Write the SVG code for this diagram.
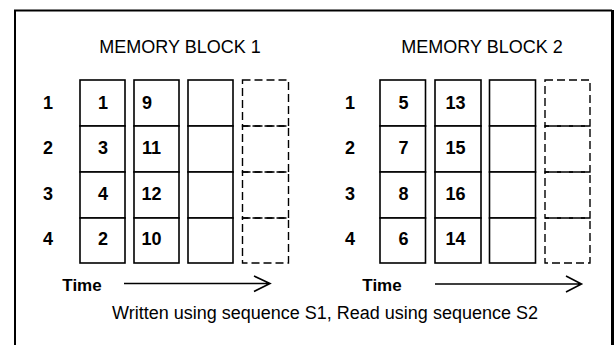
<svg xmlns="http://www.w3.org/2000/svg" width="615" height="345" viewBox="0 0 615 345">
<style>
.frame{fill:none;stroke:#000;stroke-width:2}
.cell{fill:#fff;stroke:#000;stroke-width:1.6}
.dash{fill:none;stroke:#000;stroke-width:1.4;stroke-dasharray:8 4}
.t{font-family:"Liberation Sans",Arial,sans-serif;font-size:18px;fill:#000}
.n{font-family:"Liberation Sans",Arial,sans-serif;font-size:18px;font-weight:bold;fill:#000;text-anchor:middle}
.c{text-anchor:middle}
.arr{fill:none;stroke:#000;stroke-width:1.6}
</style>
<rect width="615" height="345" fill="#fff"/>
<path class="frame" d="M15,350 V10.5 H612"/>
<line x1="612.5" y1="10" x2="612.5" y2="350" stroke="#000" stroke-width="3"/>

<g id="block1">
  <text class="t c" x="180" y="53">MEMORY BLOCK 1</text>
  <g id="rowlabels1">
    <text class="n" x="48" y="108.5">1</text>
    <text class="n" x="48" y="153.5">2</text>
    <text class="n" x="48" y="200">3</text>
    <text class="n" x="48" y="245">4</text>
  </g>
  <g id="b1col1">
    <rect class="cell" x="80" y="80" width="45" height="46"/>
    <rect class="cell" x="80" y="126" width="45" height="46"/>
    <rect class="cell" x="80" y="172" width="45" height="46"/>
    <rect class="cell" x="80" y="218" width="45" height="45"/>
    <text class="n" x="103" y="108.5">1</text>
    <text class="n" x="103" y="153.5">3</text>
    <text class="n" x="103" y="200">4</text>
    <text class="n" x="103" y="245">2</text>
  </g>
  <g id="b1col2">
    <rect class="cell" x="134" y="80" width="45" height="46"/>
    <rect class="cell" x="134" y="126" width="45" height="46"/>
    <rect class="cell" x="134" y="172" width="45" height="46"/>
    <rect class="cell" x="134" y="218" width="45" height="45"/>
    <text class="n" x="147" y="108.5">9</text>
    <text class="n" x="151.5" y="153.5">11</text>
    <text class="n" x="151.5" y="200">12</text>
    <text class="n" x="151.5" y="245">10</text>
  </g>
  <g id="b1col3">
    <rect class="cell" x="188" y="80" width="45" height="46"/>
    <rect class="cell" x="188" y="126" width="45" height="46"/>
    <rect class="cell" x="188" y="172" width="45" height="46"/>
    <rect class="cell" x="188" y="218" width="45" height="45"/>
  </g>
  <g id="b1col4">
    <rect class="dash" x="242.5" y="80" width="46" height="46"/>
    <rect class="dash" x="242.5" y="126" width="46" height="46"/>
    <rect class="dash" x="242.5" y="172" width="46" height="46"/>
    <rect class="dash" x="242.5" y="218" width="46" height="45"/>
  </g>
  <text class="n" x="82" y="290.5" style="font-size:17px">Time</text>
</g>

<g id="block2">
  <text class="t c" x="482" y="53">MEMORY BLOCK 2</text>
  <g id="rowlabels2">
    <text class="n" x="350" y="108.5">1</text>
    <text class="n" x="350" y="153.5">2</text>
    <text class="n" x="350" y="200">3</text>
    <text class="n" x="350" y="245">4</text>
  </g>
  <g id="b2col1">
    <rect class="cell" x="380" y="80" width="45.5" height="46"/>
    <rect class="cell" x="380" y="126" width="45.5" height="46"/>
    <rect class="cell" x="380" y="172" width="45.5" height="46"/>
    <rect class="cell" x="380" y="218" width="45.5" height="45"/>
    <text class="n" x="403.5" y="108.5">5</text>
    <text class="n" x="403.5" y="153.5">7</text>
    <text class="n" x="403.5" y="200">8</text>
    <text class="n" x="403.5" y="245">6</text>
  </g>
  <g id="b2col2">
    <rect class="cell" x="435" y="80" width="46" height="46"/>
    <rect class="cell" x="435" y="126" width="46" height="46"/>
    <rect class="cell" x="435" y="172" width="46" height="46"/>
    <rect class="cell" x="435" y="218" width="46" height="45"/>
    <text class="n" x="455.5" y="108.5">13</text>
    <text class="n" x="455.5" y="153.5">15</text>
    <text class="n" x="455.5" y="200">16</text>
    <text class="n" x="455.5" y="245">14</text>
  </g>
  <g id="b2col3">
    <rect class="cell" x="489.5" y="80" width="46" height="46"/>
    <rect class="cell" x="489.5" y="126" width="46" height="46"/>
    <rect class="cell" x="489.5" y="172" width="46" height="46"/>
    <rect class="cell" x="489.5" y="218" width="46" height="45"/>
  </g>
  <g id="b2col4">
    <rect class="dash" x="545" y="80" width="45" height="46"/>
    <rect class="dash" x="545" y="126" width="45" height="46"/>
    <rect class="dash" x="545" y="172" width="45" height="46"/>
    <rect class="dash" x="545" y="218" width="45" height="45"/>
  </g>
  <text class="n" x="382" y="290.5" style="font-size:17px">Time</text>
</g>

<g id="connectors">
  <path class="arr" d="M124,283.5 H270 M254,276 L270,283.5 L254,291.5"/>
  <path class="arr" d="M435,284 H581.5 M566,276 L581.5,284 L566,292"/>
</g>

<text class="t c" x="325" y="318.5">Written using sequence S1, Read using sequence S2</text>
</svg>
